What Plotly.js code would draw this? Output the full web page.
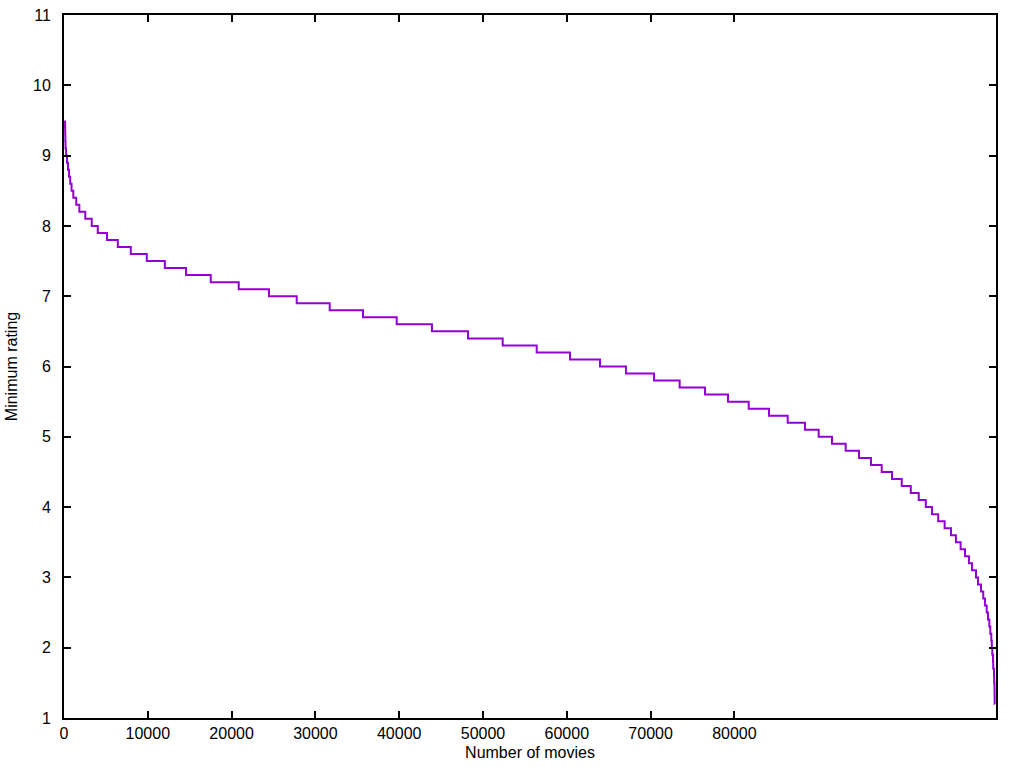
<!DOCTYPE html>
<html>
<head>
<meta charset="utf-8">
<script src="https://cdn.plot.ly/plotly-3.0.1.min.js"></script>
<style>
  html, body { margin: 0; padding: 0; background: #fff; }
  #chart { width: 1024px; height: 768px; }
</style>
</head>
<body>
<div id="chart"></div>
<script>
// Minimum rating levels (step 0.1)
const ratings = [
  9.5, 9.4, 9.3, 9.2, 9.1, 9.0, 8.9, 8.8, 8.7, 8.6,
  8.5, 8.4, 8.3, 8.2, 8.1, 8.0, 7.9, 7.8, 7.7, 7.6,
  7.5, 7.4, 7.3, 7.2, 7.1, 7.0, 6.9, 6.8, 6.7, 6.6,
  6.5, 6.4, 6.3, 6.2, 6.1, 6.0, 5.9, 5.8, 5.7, 5.6,
  5.5, 5.4, 5.3, 5.2, 5.1, 5.0, 4.9, 4.8, 4.7, 4.6,
  4.5, 4.4, 4.3, 4.2, 4.1, 4.0, 3.9, 3.8, 3.7, 3.6,
  3.5, 3.4, 3.3, 3.2, 3.1, 3.0, 2.9, 2.8, 2.7, 2.6,
  2.5, 2.4, 2.3, 2.2, 2.1, 2.0, 1.9, 1.8, 1.7, 1.6,
  1.5, 1.4, 1.3, 1.2
];
// Number of movies with rating >= the level
const movieCounts = [
  130, 145, 160, 180, 240, 360, 480, 600, 740, 900,
  1110, 1460, 1830, 2540, 3310, 4030, 5130, 6420, 7970, 9880,
  12030, 14560, 17510, 20850, 24460, 27770, 31710, 35680, 39700, 43910,
  48210, 52350, 56410, 60380, 63960, 67060, 70410, 73470, 76490, 79240,
  81710, 84130, 86360, 88420, 90060, 91650, 93280, 94870, 96300, 97580,
  98810, 99970, 101050, 102000, 102840, 103580, 104320, 105090, 105850, 106440,
  107000, 107520, 107990, 108350, 108830, 109070, 109430, 109700, 109900, 110110,
  110260, 110420, 110540, 110660, 110720, 110780, 110860, 110890, 110980, 111000,
  111040, 111050, 111060, 111070
];
const xTickValues = [0, 10000, 20000, 30000, 40000, 50000, 60000, 70000, 80000];
const xTickLabels = ["0", "10000", "20000", "30000", "40000", "50000", "60000", "70000", "80000"];
const yTickValues = [1, 2, 3, 4, 5, 6, 7, 8, 9, 10, 11];

const trace = {
  x: movieCounts,
  y: ratings,
  type: 'scatter',
  mode: 'lines',
  line: { color: '#9400d3', width: 2, shape: 'vh' },
  hoverinfo: 'x+y'
};

const fontFam = '"Liberation Sans", Arial, sans-serif';
const layout = {
  width: 1024,
  height: 768,
  margin: { l: 64, r: 28, t: 15, b: 50 },
  paper_bgcolor: '#ffffff',
  plot_bgcolor: '#ffffff',
  showlegend: false,
  font: { family: fontFam, size: 16, color: '#000' },
  xaxis: {
    range: [0, 111220],
    tickvals: xTickValues,
    ticktext: xTickLabels,
    ticks: 'inside',
    ticklen: 7,
    tickwidth: 2,
    tickcolor: '#000',
    showline: true,
    linecolor: '#000',
    linewidth: 2,
    mirror: 'ticks',
    showgrid: false,
    zeroline: false,
    ticklabelstandoff: 0,
    tickfont: { family: fontFam, size: 16, color: '#000' },
    title: { text: 'Number of movies', font: { family: fontFam, size: 16, color: '#000' }, standoff: 6 }
  },
  yaxis: {
    range: [1, 11],
    tickvals: yTickValues,
    ticks: 'inside',
    ticklen: 7,
    tickwidth: 2,
    tickcolor: '#000',
    showline: true,
    linecolor: '#000',
    linewidth: 2,
    mirror: 'ticks',
    showgrid: false,
    zeroline: false,
    ticklabelstandoff: 8,
    tickfont: { family: fontFam, size: 16, color: '#000' },
    title: { text: 'Minimum rating', font: { family: fontFam, size: 16, color: '#000' }, standoff: 11 }
  }
};

Plotly.newPlot('chart', [trace], layout, { displayModeBar: false, staticPlot: true });
</script>
</body>
</html>
